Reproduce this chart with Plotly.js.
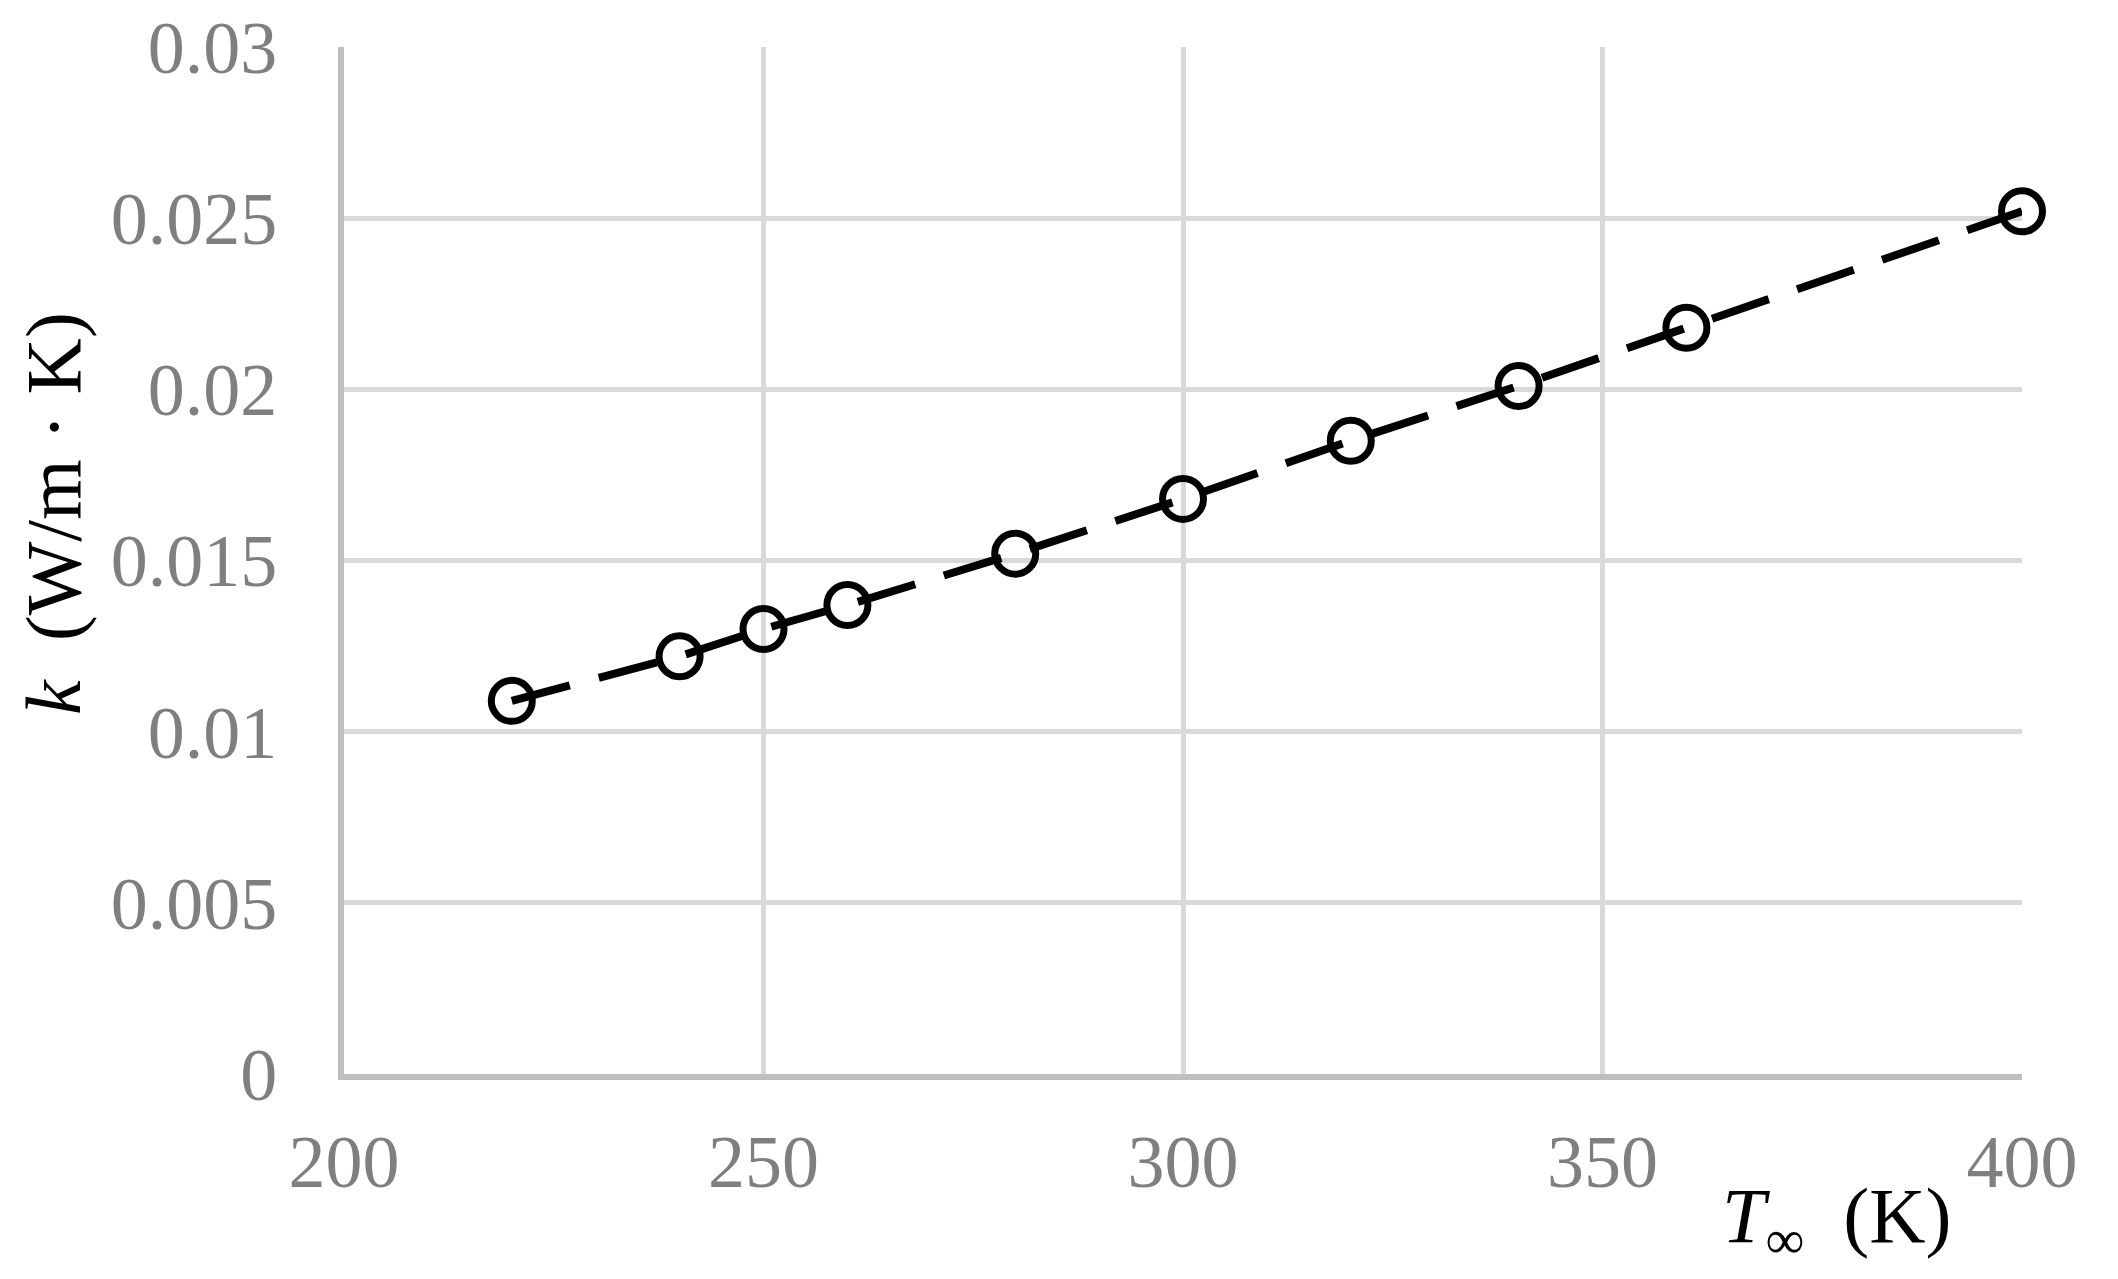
<!DOCTYPE html>
<html>
<head>
<meta charset="utf-8">
<script src="https://cdn.plot.ly/plotly-3.0.1.min.js"></script>
<style>
  html, body { margin: 0; padding: 0; background: #fff; }
  #chart { width: 2118px; height: 1279px; }
</style>
</head>
<body>
<div id="chart"></div>
<script>
// free-stream temperature (K) and conductivity k (W/m.K)
const tInf = [220, 240, 250, 260, 280, 300, 320, 340, 360, 400];
const kVals = [0.0109, 0.0122, 0.0130, 0.0137, 0.0152, 0.0168, 0.0185, 0.0201, 0.0218, 0.0252];

const xTicks = [200, 250, 300, 350, 400];
const yTicks = [0, 0.005, 0.01, 0.015, 0.02, 0.025, 0.03];
const yTickLabels = ["0", "0.005", "0.01", "0.015", "0.02", "0.025", "0.03"];

const serif = "Liberation Serif, Times New Roman, serif";

const trace = {
  x: tInf,
  y: kVals,
  mode: "lines+markers",
  cliponaxis: false,
  line: { color: "#000", width: 8, dash: "60px,30px" },
  marker: {
    symbol: "circle-open",
    size: 41,
    color: "#000",
    line: { color: "#000", width: 7 },
  },
  showlegend: false,
};

const layout = {
  width: 2118,
  height: 1279,
  margin: { l: 344, r: 96, t: 47, b: 205 },
  paper_bgcolor: "#fff",
  plot_bgcolor: "#fff",
  font: { family: serif, color: "#7f7f7f", size: 74 },
  xaxis: {
    range: [200, 400],
    tickvals: xTicks,
    showgrid: true,
    gridcolor: "#d9d9d9",
    gridwidth: 5,
    zeroline: false,
    showline: true,
    linecolor: "#bfbfbf",
    linewidth: 6,
    ticks: "",
    ticklabelstandoff: 18,
    tickfont: { family: serif, size: 74, color: "#7f7f7f" },
  },
  yaxis: {
    range: [0, 0.03],
    tickvals: yTicks,
    ticktext: yTickLabels,
    showgrid: true,
    gridcolor: "#d9d9d9",
    gridwidth: 5,
    zeroline: false,
    showline: true,
    linecolor: "#bfbfbf",
    linewidth: 6,
    ticks: "",
    ticklabelstandoff: 46,
    tickfont: { family: serif, size: 74, color: "#7f7f7f" },
  },
  annotations: [
    {
      text: "<i>T</i><sub>∞</sub>&nbsp;&nbsp;(K)",
      xref: "paper", yref: "paper",
      x: 0.89, y: -0.143,
      xanchor: "center", yanchor: "middle",
      showarrow: false,
      font: { family: serif, size: 78, color: "#000" },
    },
    {
      text: "<i>k</i>&nbsp;&nbsp;(W/m&nbsp;·&nbsp;K)",
      xref: "paper", yref: "paper",
      x: -0.173, y: 0.546,
      xanchor: "center", yanchor: "middle",
      textangle: -90,
      showarrow: false,
      font: { family: serif, size: 78, color: "#000" },
    },
  ],
};

Plotly.newPlot("chart", [trace], layout, { staticPlot: true });
</script>
</body>
</html>
